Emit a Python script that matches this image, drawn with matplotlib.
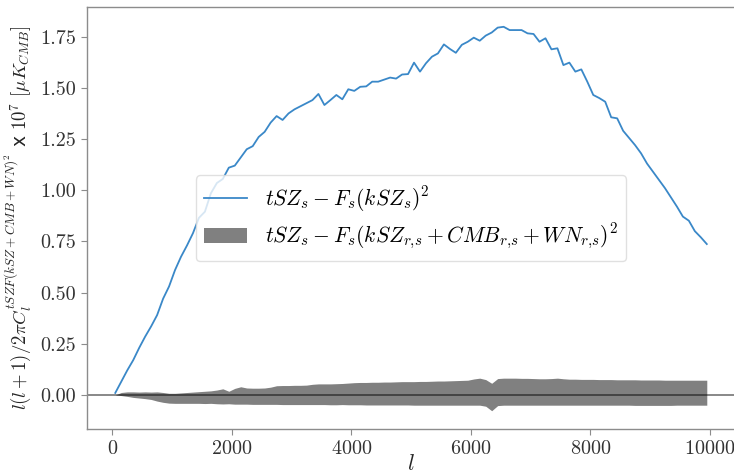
import numpy as np
import matplotlib
matplotlib.use("Agg")
import matplotlib.pyplot as plt

plt.rcParams['font.family'] = 'serif'
plt.rcParams['font.serif'] = ['cmr10']
plt.rcParams['mathtext.fontset'] = 'cm'
plt.rcParams['axes.formatter.use_mathtext'] = True

# -------------------------------------------------
# Datos, l = 50, 150, ..., 9950
# -------------------------------------------------
ell = np.arange(50, 10000, 100)

cl_ksz = [
    0.010, 0.065, 0.120, 0.170, 0.230, 0.285, 0.335, 0.390, 0.470, 0.530,
    0.610, 0.675, 0.730, 0.790, 0.865, 0.895, 0.985, 1.035, 1.055, 1.110,
    1.120, 1.160, 1.200, 1.215, 1.260, 1.285, 1.330, 1.362, 1.343, 1.375,
    1.395, 1.410, 1.425, 1.440, 1.470, 1.416, 1.440, 1.465, 1.444, 1.493,
    1.485, 1.505, 1.507, 1.530, 1.530, 1.540, 1.550, 1.545, 1.565, 1.567,
    1.623, 1.579, 1.620, 1.652, 1.668, 1.712, 1.690, 1.671, 1.710, 1.725,
    1.745, 1.730, 1.755, 1.770, 1.794, 1.798, 1.782, 1.782, 1.782, 1.766,
    1.763, 1.725, 1.742, 1.688, 1.693, 1.611, 1.623, 1.579, 1.590, 1.530,
    1.465, 1.450, 1.432, 1.356, 1.351, 1.290, 1.255, 1.220, 1.180, 1.130,
    1.090, 1.050, 1.010, 0.965, 0.920, 0.871, 0.851, 0.800, 0.770, 0.737,
]

band_hi = [
    0.000, 0.012, 0.015, 0.015, 0.014, 0.015, 0.014, 0.015, 0.012, 0.008,
    0.008, 0.010, 0.012, 0.014, 0.016, 0.018, 0.020, 0.024, 0.030, 0.018,
    0.032, 0.040, 0.034, 0.033, 0.033, 0.034, 0.038, 0.045, 0.046, 0.046,
    0.047, 0.047, 0.048, 0.052, 0.054, 0.054, 0.054, 0.055, 0.056, 0.058,
    0.060, 0.061, 0.061, 0.062, 0.062, 0.063, 0.063, 0.064, 0.065, 0.065,
    0.065, 0.066, 0.066, 0.067, 0.068, 0.068, 0.069, 0.070, 0.071, 0.072,
    0.078, 0.082, 0.075, 0.057, 0.080, 0.082, 0.082, 0.082, 0.081, 0.081,
    0.080, 0.079, 0.079, 0.080, 0.082, 0.079, 0.077, 0.077, 0.076, 0.076,
    0.076, 0.075, 0.075, 0.075, 0.074, 0.074, 0.074, 0.074, 0.073, 0.073,
    0.073, 0.073, 0.072, 0.072, 0.072, 0.072, 0.072, 0.072, 0.072, 0.072,
]

band_lo = [
    0.000, -0.003, -0.007, -0.012, -0.015, -0.018, -0.022, -0.030, -0.036, -0.040,
    -0.041, -0.041, -0.041, -0.041, -0.041, -0.042, -0.041, -0.043, -0.044, -0.043,
    -0.045, -0.045, -0.045, -0.046, -0.046, -0.046, -0.046, -0.046, -0.047, -0.047,
    -0.047, -0.047, -0.047, -0.047, -0.047, -0.047, -0.048, -0.048, -0.047, -0.048,
    -0.048, -0.048, -0.049, -0.049, -0.049, -0.049, -0.049, -0.049, -0.049, -0.049,
    -0.050, -0.050, -0.050, -0.050, -0.050, -0.050, -0.050, -0.050, -0.050, -0.050,
    -0.050, -0.050, -0.055, -0.077, -0.052, -0.050, -0.050, -0.050, -0.050, -0.050,
    -0.050, -0.050, -0.050, -0.050, -0.050, -0.050, -0.050, -0.050, -0.050, -0.050,
    -0.050, -0.050, -0.050, -0.050, -0.050, -0.050, -0.050, -0.051, -0.051, -0.051,
    -0.051, -0.051, -0.051, -0.051, -0.050, -0.050, -0.050, -0.050, -0.050, -0.050,
]

# -------------------------------------------------
# Figura
# -------------------------------------------------
fig = plt.figure(figsize=(7.34, 4.76), dpi=100)
ax = fig.add_axes([0.118, 0.098, 0.884, 0.887])

ax.plot(ell, cl_ksz, color='#3a88c8', linewidth=1.3,
        label=r'$tSZ_s - F_s(kSZ_s)^2$')
ax.fill_between(ell, band_lo, band_hi, color='0.5', linewidth=0,
                label=r'$tSZ_s - F_s(kSZ_{r{,}s}+CMB_{r{,}s}+WN_{r{,}s})^2$')
ax.axhline(0, color='k', alpha=0.5, linewidth=1.3)

ax.set_xlim(-430, 10430)
ax.set_ylim(-0.168, 1.894)
ax.set_xticks([0, 2000, 4000, 6000, 8000, 10000])
ax.set_yticks(np.arange(0, 1.76, 0.25))
ax.set_yticklabels(['%.2f' % v for v in np.arange(0, 1.76, 0.25)])

for s in ax.spines.values():
    s.set_color('0.55')
    s.set_linewidth(1.0)
ax.tick_params(colors='0.55', labelcolor='0.2', labelsize=14.5, length=4)

ax.set_xlabel(r'$l$', fontsize=16, color='0.15', labelpad=-3)
ax.set_ylabel(r'$l(l+1)/2\pi C_l^{tSZF(kSZ+CMB+WN)^2}$ x $10^7$ $[\mu K_{CMB}]$',
              fontsize=13.5, color='0.15', family='DejaVu Sans', labelpad=5)

ax.legend(loc='center', fontsize=15.5, framealpha=0.8, edgecolor='0.85',
          labelspacing=0.4)

fig.savefig('out.png', dpi=100)
